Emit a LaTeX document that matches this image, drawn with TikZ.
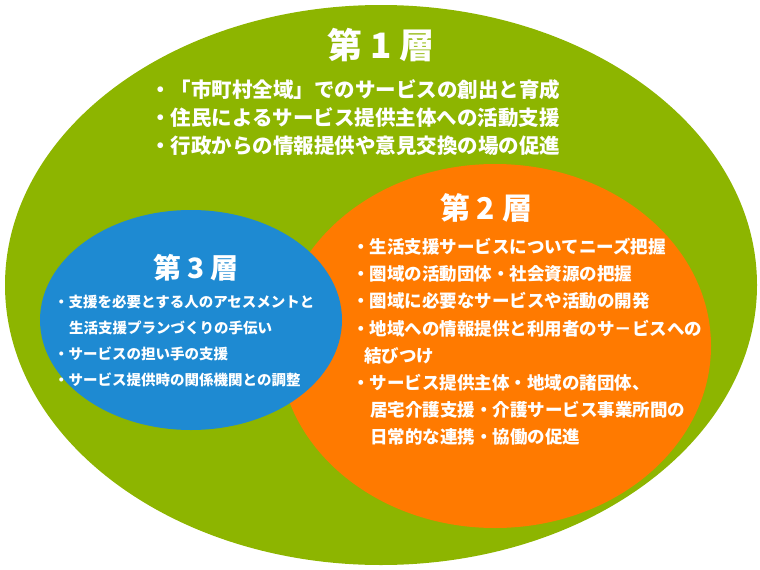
\documentclass[tikz,border=0pt]{standalone}
\usepackage{fontspec}
\newfontfamily\cjk{Noto Sans CJK JP}
\definecolor{layergreen}{HTML}{8DB500}
\definecolor{layerorange}{HTML}{FF7A00}
\definecolor{layerblue}{HTML}{1E8AD2}
\tikzset{
  layertitle/.style={text=white, font=\cjk\bfseries},
  layertext/.style={text=white, font=\cjk\bfseries, align=left, anchor=north west, inner sep=0pt}
}
\begin{document}
\begin{tikzpicture}[x=1pt,y=-1pt]
  \useasboundingbox (0,0) rectangle (760,570);
  \fill[layergreen] (381,285) ellipse [x radius=376, y radius=280];
  \fill[layerorange] (495,346) ellipse [x radius=216, y radius=182];
  \fill[layerblue] (191,320) ellipse [x radius=151, y radius=110];

  \node[layertitle, font=\cjk\bfseries\fontsize{35}{35}\selectfont] (t1) at (381,45) {第 1 層};
  \node[layertext, font=\cjk\bfseries\fontsize{20.5}{28}\selectfont] (b1) at (150,79)
    {・「市町村全域」でのサービスの創出と育成\\
     ・住民によるサービス提供主体への活動支援\\
     ・行政からの情報提供や意見交換の場の促進};

  \node[layertitle, font=\cjk\bfseries\fontsize{30}{30}\selectfont] (t2) at (486,208) {第 2 層};
  \node[layertext, font=\cjk\bfseries\fontsize{17.5}{27.2}\selectfont] (b2) at (352,238)
    {・生活支援サービスについてニーズ把握\\
     ・圏域の活動団体・社会資源の把握\\
     ・圏域に必要なサービスや活動の開発\\
     ・地域への情報提供と利用者のサ－ビスへの\\
     \hspace*{12pt}結びつけ\\
     ・サービス提供主体・地域の諸団体、\\
     \hspace*{18pt}居宅介護支援・介護サービス事業所間の\\
     \hspace*{18pt}日常的な連携・協働の促進};

  \node[layertitle, font=\cjk\bfseries\fontsize{28}{28}\selectfont] (t3) at (196,268) {第 3 層};
  \node[layertext, font=\cjk\bfseries\fontsize{14.5}{26}\selectfont] (b3) at (54,295)
    {・支援を必要とする人のアセスメントと\\
     \hspace*{15pt}生活支援プランづくりの手伝い\\
     ・サービスの担い手の支援\\
     ・サービス提供時の関係機関との調整};
\end{tikzpicture}
\end{document}
